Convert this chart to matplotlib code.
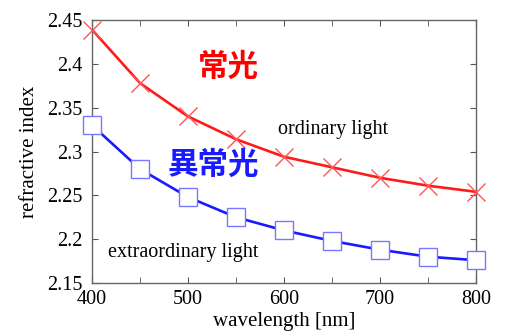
import matplotlib.pyplot as plt
import numpy as np

wavelength = [400, 450, 500, 550, 600, 650, 700, 750, 800]
n_ordinary = [2.439, 2.378, 2.340, 2.314, 2.294, 2.282, 2.270, 2.261, 2.254]
n_extra = [2.330, 2.280, 2.248, 2.225, 2.210, 2.198, 2.188, 2.180, 2.176]

serif = ['Liberation Serif', 'DejaVu Serif']
cjk = ['Noto Sans CJK JP', 'DejaVu Sans']

fig = plt.figure(figsize=(5.05, 3.32), dpi=100)
ax = fig.add_axes([92 / 505, 1 - 283 / 332, 384 / 505, 263 / 332])

ax.plot(wavelength, n_ordinary, color='#ff1a1a', lw=1.9, zorder=2)
ax.plot(wavelength, n_ordinary, 'x', color='#ff5555', ms=13, mew=1.0, zorder=3, clip_on=False)
ax.plot(wavelength, n_extra, color='#1a1aff', lw=1.9, zorder=2)
ax.plot(wavelength, n_extra, 's', mfc='white', mec='#7777ff', ms=12.5, mew=1.0, zorder=3, clip_on=False)

ax.set_xlim(400, 800)
ax.set_ylim(2.15, 2.45)
ax.set_xticks([400, 500, 600, 700, 800])
ax.set_xticks([450, 550, 650, 750], minor=True)
ax.set_yticks([2.15, 2.2, 2.25, 2.3, 2.35, 2.4, 2.45])
ax.set_yticklabels(['2.15', '2.2', '2.25', '2.3', '2.35', '2.4', '2.45'])
ax.tick_params(which='both', direction='in', top=True, right=True, length=4, color='#555555',
               labelsize=14.5)
ax.tick_params(axis='y', pad=7)
ax.tick_params(axis='x', pad=5)
for lab in ax.get_xticklabels() + ax.get_yticklabels():
    lab.set_family(serif)
for s in ax.spines.values():
    s.set_color('#666666')
    s.set_linewidth(1.0)

ax.set_xlabel('wavelength [nm]', family=serif, fontsize=15, labelpad=2)
ax.set_ylabel('refractive index', family=serif, fontsize=15, labelpad=6)

ax.text(651, 2.325, 'ordinary light', family=serif, fontsize=14.5, ha='center', va='center')
ax.text(495, 2.185, 'extraordinary light', family=serif, fontsize=14.5, ha='center', va='center')
ax.text(542, 2.396, '常光', family=cjk, fontsize=22, fontweight='bold', color='#ff0000',
        ha='center', va='center')
ax.text(526, 2.285, '異常光', family=cjk, fontsize=22, fontweight='bold', color='#1a1aff',
        ha='center', va='center')

fig.savefig('out.png', dpi=100)
